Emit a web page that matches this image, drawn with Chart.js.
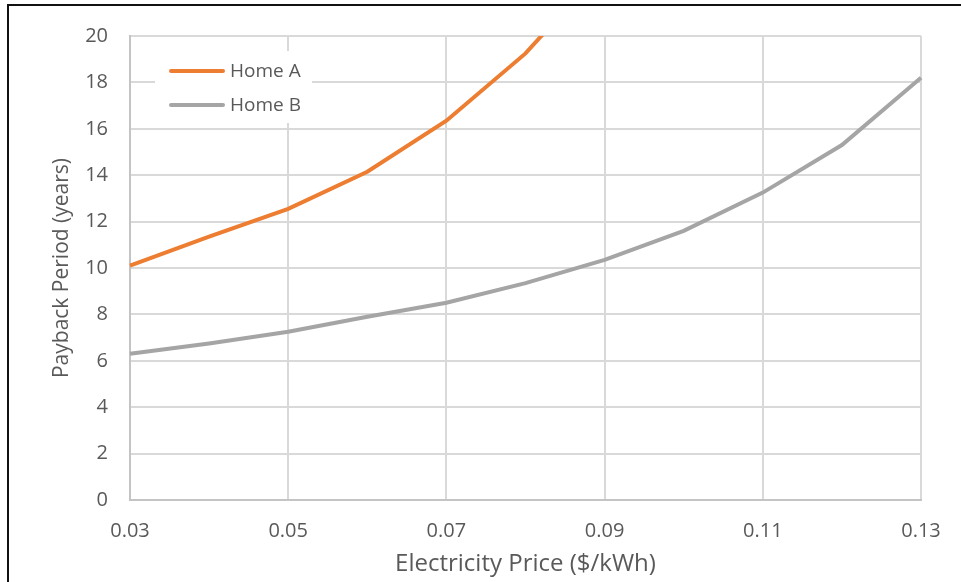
<!DOCTYPE html>
<html>
<head>
<meta charset="utf-8">
<script src="https://cdn.jsdelivr.net/npm/chart.js@4.4.1/dist/chart.umd.min.js"></script>
<style>
  html, body { margin: 0; padding: 0; background: #ffffff; }
  #wrap { position: relative; width: 961px; height: 582px; }
</style>
</head>
<body>
<div id="wrap"><canvas id="chart" width="961" height="582"></canvas></div>
<script>
// Electricity price ($/kWh) for each computed point
const prices = [0.03, 0.04, 0.05, 0.06, 0.07, 0.08, 0.09, 0.10, 0.11, 0.12, 0.13];
// Payback period in years
const homeA = [10.1, 11.35, 12.55, 14.15, 16.35, 19.25, 23.0, null, null, null, null];
const homeB = [6.3, 6.75, 7.25, 7.9, 8.5, 9.35, 10.35, 11.6, 13.25, 15.3, 18.2];
// Labelled ticks on the price axis
const xTickValues = [0.03, 0.05, 0.07, 0.09, 0.11, 0.13];
const seriesNames = ['Home A', 'Home B'];
const seriesColors = ['#ED7D31', '#A5A5A5'];

const FONT = '"Open Sans", sans-serif';
const TEXT = '#595959';

const toPoints = arr => prices.map((p, i) => ({ x: p, y: arr[i] }));

// Outer frame line (top and left edges)
const framePlugin = {
  id: 'frame',
  beforeDraw(chart) {
    const ctx = chart.ctx;
    ctx.save();
    ctx.strokeStyle = '#111111';
    ctx.lineWidth = 2;
    ctx.beginPath();
    ctx.moveTo(8, 582);
    ctx.lineTo(8, 5);
    ctx.lineTo(961, 5);
    ctx.stroke();
    ctx.restore();
  }
};

// Legend drawn inside the plot area on a white box
const insetLegend = {
  id: 'insetLegend',
  afterDatasetsDraw(chart) {
    const ctx = chart.ctx;
    const area = chart.chartArea;
    const bx = area.left + 25, by = area.top + 15, bw = 157, bh = 72;
    ctx.save();
    ctx.fillStyle = '#ffffff';
    ctx.fillRect(bx, by, bw, bh);
    chart.data.datasets.forEach((ds, i) => {
      const y = by + 20 + i * 34;
      ctx.strokeStyle = ds.borderColor;
      ctx.lineWidth = 4;
      ctx.lineCap = 'round';
      ctx.beginPath();
      ctx.moveTo(bx + 16, y);
      ctx.lineTo(bx + 68, y);
      ctx.stroke();
      ctx.fillStyle = TEXT;
      ctx.font = '19px ' + FONT;
      ctx.textAlign = 'left';
      ctx.textBaseline = 'middle';
      ctx.fillText(ds.label, bx + 75, y + 1);
    });
    ctx.restore();
  }
};

new Chart(document.getElementById('chart'), {
  type: 'line',
  data: {
    datasets: [
      { label: seriesNames[0], data: toPoints(homeA), borderColor: seriesColors[0], backgroundColor: seriesColors[0],
        borderWidth: 4, pointRadius: 0, tension: 0, spanGaps: false, clip: { left: 4, top: 0, right: 4, bottom: 4 } },
      { label: seriesNames[1], data: toPoints(homeB), borderColor: seriesColors[1], backgroundColor: seriesColors[1],
        borderWidth: 4, pointRadius: 0, tension: 0, clip: { left: 4, top: 0, right: 4, bottom: 4 } }
    ]
  },
  options: {
    responsive: false,
    animation: false,
    layout: { padding: { left: 0, top: 36, right: 40, bottom: 0 } },
    plugins: { legend: { display: false }, tooltip: { enabled: false } },
    scales: {
      x: {
        type: 'linear',
        min: 0.03,
        max: 0.13,
        afterBuildTicks(scale) { scale.ticks = xTickValues.map(v => ({ value: v })); },
        afterFit(scale) { scale.height = 82; },
        grid: { color: '#d9d9d9', lineWidth: 2, drawTicks: false },
        border: { color: '#c4c4c4', width: 2 },
        ticks: { padding: 19, color: TEXT, font: { family: FONT, size: 20 }, maxRotation: 0,
                 callback: v => Number(v).toFixed(2) },
        title: { display: true, text: 'Electricity Price ($/kWh)', color: TEXT,
                 font: { family: FONT, size: 24 }, padding: { top: 0, bottom: 3 } }
      },
      y: {
        min: 0,
        max: 20,
        afterFit(scale) { scale.width = 130; },
        grid: { color: '#d9d9d9', lineWidth: 2, drawTicks: false },
        border: { color: '#c4c4c4', width: 2 },
        ticks: { stepSize: 2, padding: 22, color: TEXT, font: { family: FONT, size: 20 } },
        title: { display: true, text: 'Payback Period (years)', color: TEXT,
                 font: { family: FONT, size: 21 }, padding: { top: 49, bottom: 0 } }
      }
    }
  },
  plugins: [framePlugin, insetLegend]
});
</script>
</body>
</html>
